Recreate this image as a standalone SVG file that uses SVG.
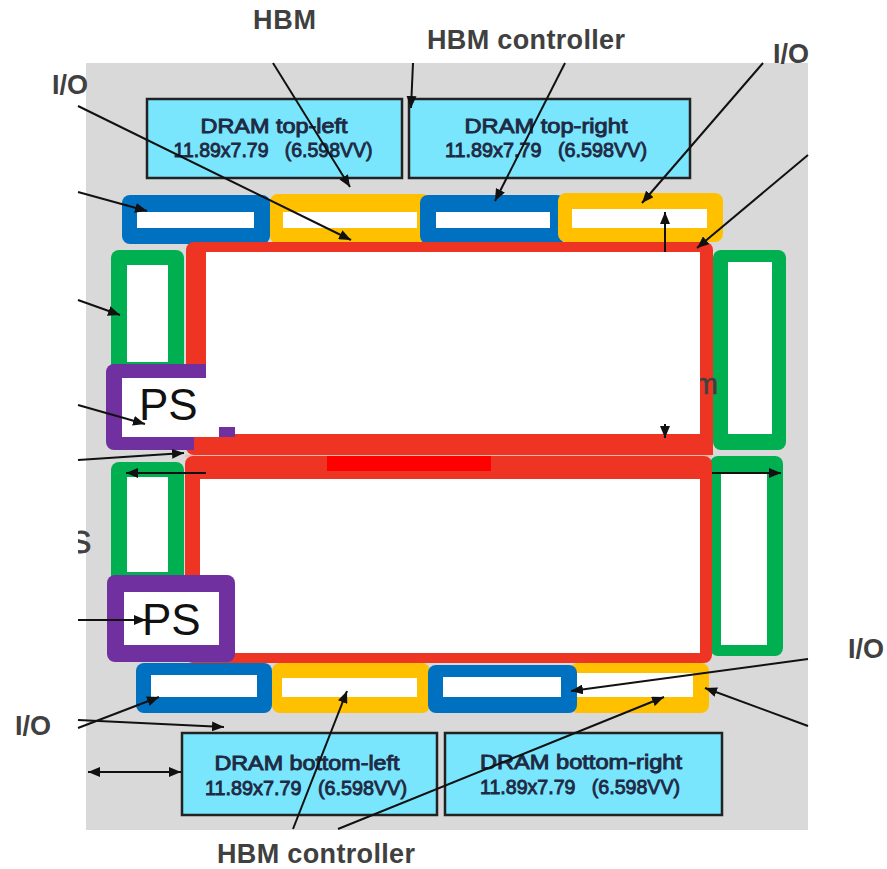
<svg xmlns="http://www.w3.org/2000/svg" width="887" height="869" viewBox="0 0 887 869">
<defs>
<marker id="ah" viewBox="0 0 12 10" refX="12" refY="5" markerWidth="12" markerHeight="10" markerUnits="userSpaceOnUse" orient="auto-start-reverse">
<path d="M0,0 L12,5 L0,10 Z" fill="#111"/>
</marker>
<style>
.lbl{font-family:"Liberation Sans",Arial,sans-serif;font-weight:bold;font-size:27px;fill:#404040}
.dram{fill:#7ae6fd;stroke:#222;stroke-width:2.5}
.dt{font-family:"Liberation Sans",Arial,sans-serif;font-size:20px;fill:#1f2a44;stroke:#1f2a44;stroke-width:0.9;text-anchor:middle}
.blue{fill:#0070c0}
.yel{fill:#ffc000}
.grn{fill:#00b050}
.red{fill:#ee3524}
.pur{fill:#7030a0}
.wh{fill:#ffffff}
.ps{font-family:"Liberation Sans",Arial,sans-serif;font-size:44px;fill:#111}
.c{stroke:#111;stroke-width:2;fill:none}
</style>
</defs>
<rect x="0" y="0" width="887" height="869" fill="#ffffff"/>
<rect id="bg" x="86" y="63" width="722" height="767" fill="#d9d9d9"/>

<g id="dram-top-left"><rect class="dram" x="147" y="99" width="255" height="79"/>
<text class="dt" x="274" y="133" textLength="147" lengthAdjust="spacingAndGlyphs">DRAM top-left</text>
<text class="dt" x="273" y="157" textLength="199" lengthAdjust="spacingAndGlyphs" xml:space="preserve">11.89x7.79   (6.598VV)</text></g>
<g id="dram-top-right"><rect class="dram" x="409" y="99" width="281" height="79"/>
<text class="dt" x="546" y="133" textLength="163" lengthAdjust="spacingAndGlyphs">DRAM top-right</text>
<text class="dt" x="546" y="157" textLength="202" lengthAdjust="spacingAndGlyphs" xml:space="preserve">11.89x7.79   (6.598VV)</text></g>
<g id="dram-bottom-left"><rect class="dram" x="182" y="733" width="255" height="82"/>
<text class="dt" x="307" y="770" textLength="185" lengthAdjust="spacingAndGlyphs">DRAM bottom-left</text>
<text class="dt" x="306" y="795" textLength="202" lengthAdjust="spacingAndGlyphs" xml:space="preserve">11.89x7.79   (6.598VV)</text></g>
<g id="dram-bottom-right"><rect class="dram" x="445" y="733" width="277" height="82"/>
<text class="dt" x="581" y="769" textLength="202" lengthAdjust="spacingAndGlyphs">DRAM bottom-right</text>
<text class="dt" x="580" y="794" textLength="200" lengthAdjust="spacingAndGlyphs" xml:space="preserve">11.89x7.79   (6.598VV)</text></g>

<g id="top-row">
<rect class="blue" x="122" y="195" width="148" height="49" rx="8"/><rect class="wh" x="137" y="212" width="117" height="16"/>
<rect class="yel" x="270" y="194" width="160" height="50" rx="8"/><rect class="wh" x="283" y="212" width="134" height="16"/>
<rect class="blue" x="420" y="195" width="145" height="49" rx="8"/><rect class="wh" x="436" y="212" width="114" height="16"/>
<rect class="yel" x="558" y="193" width="165" height="49" rx="8"/><rect class="wh" x="572" y="209" width="135" height="19"/>
</g>

<g id="green-left-top"><rect class="grn" x="111" y="250" width="73" height="125" rx="8"/><rect class="wh" x="127" y="265" width="41" height="97"/></g>
<g id="green-right-top"><rect class="grn" x="713" y="250" width="73" height="200" rx="8"/><rect class="wh" x="728" y="262" width="44" height="172"/></g>
<g id="green-left-bottom"><rect class="grn" x="111" y="462" width="73" height="125" rx="8"/><rect class="wh" x="127" y="477" width="41" height="95"/></g>
<g id="green-right-bottom"><rect class="grn" x="710" y="456" width="73" height="200" rx="8"/><rect class="wh" x="721" y="473" width="46" height="172"/></g>

<g id="bottom-row">
<rect class="blue" x="136" y="663" width="136" height="50" rx="8"/><rect class="wh" x="151" y="675" width="106" height="22"/>
<rect class="yel" x="272" y="663" width="158" height="50" rx="8"/><rect class="wh" x="282" y="678" width="135" height="19"/>
<rect class="yel" x="570" y="663" width="139" height="50" rx="8"/>
<rect class="blue" x="428" y="665" width="149" height="48" rx="8"/><rect class="wh" x="443" y="677" width="118" height="20"/>
<rect class="wh" x="577" y="673" width="116" height="24"/>
</g>

<g id="top-frame">
<rect class="red" x="186" y="242" width="527" height="213" rx="8"/>
<text x="694" y="394" font-family="Liberation Sans, Arial, sans-serif" font-size="29" fill="#404040" stroke="#404040" stroke-width="0.6">m</text>
</g>
<g id="ps-top">
<rect class="pur" x="106" y="364" width="129" height="86" rx="8"/>
<rect class="wh" x="122" y="378" width="97" height="59"/>
<text class="ps" x="139" y="420">PS</text>
</g>
<rect class="red" x="194" y="437" width="519" height="18"/>
<rect class="wh" x="206" y="252" width="494" height="175"/>
<rect class="wh" x="235" y="427" width="465" height="7"/>

<g id="bottom-frame">
<rect x="185" y="455" width="527" height="2" fill="#f4b8b0"/>
<rect class="red" x="185" y="456" width="527" height="207" rx="8"/>
<rect class="wh" x="200" y="479" width="500" height="174"/>
<rect x="327" y="456" width="164" height="15" fill="#ff0000"/>
</g>
<g id="ps-bottom">
<rect class="pur" x="107" y="575" width="128" height="87" rx="8"/>
<rect class="wh" x="124" y="592" width="95" height="53"/>
<text class="ps" x="142" y="635">PS</text>
</g>

<text x="70" y="553" font-family="Liberation Sans, Arial, sans-serif" font-size="32" fill="#404040" stroke="#404040" stroke-width="0.8">S</text>
<rect class="wh" x="40" y="520" width="38" height="40"/>

<g id="connectors">
<line class="c" x1="273" y1="63" x2="350" y2="187" marker-end="url(#ah)"/>
<line class="c" x1="413" y1="63" x2="411" y2="108" marker-end="url(#ah)"/>
<line class="c" x1="565" y1="63" x2="495" y2="201" marker-end="url(#ah)"/>
<line class="c" x1="763" y1="63" x2="642" y2="203" marker-end="url(#ah)"/>
<line class="c" x1="808" y1="155" x2="697" y2="248" marker-end="url(#ah)"/>
<line class="c" x1="665" y1="252" x2="665" y2="212" marker-end="url(#ah)"/>
<line class="c" x1="665" y1="424" x2="665" y2="438" marker-end="url(#ah)"/>
<line class="c" x1="78" y1="106" x2="351" y2="240" marker-end="url(#ah)"/>
<line class="c" x1="78" y1="192" x2="147" y2="211" marker-end="url(#ah)"/>
<line class="c" x1="78" y1="300" x2="120" y2="315" marker-end="url(#ah)"/>
<line class="c" x1="78" y1="405" x2="145" y2="424" marker-end="url(#ah)"/>
<line class="c" x1="78" y1="460" x2="184" y2="453" marker-end="url(#ah)"/>
<line class="c" x1="206" y1="473" x2="126" y2="473" marker-end="url(#ah)"/>
<line class="c" x1="712" y1="473" x2="781" y2="473" marker-end="url(#ah)"/>
<line class="c" x1="78" y1="620" x2="146" y2="620" marker-end="url(#ah)"/>
<line class="c" x1="78" y1="728" x2="159" y2="697" marker-end="url(#ah)"/>
<line class="c" x1="78" y1="720" x2="224" y2="727" marker-end="url(#ah)"/>
<line class="c" x1="88" y1="772" x2="181" y2="772" marker-start="url(#ah)" marker-end="url(#ah)"/>
<line class="c" x1="293" y1="829" x2="347" y2="691" marker-end="url(#ah)"/>
<line class="c" x1="338" y1="829" x2="664" y2="697" marker-end="url(#ah)"/>
<line class="c" x1="808" y1="659" x2="571" y2="691" marker-end="url(#ah)"/>
<line class="c" x1="808" y1="726" x2="705" y2="688" marker-end="url(#ah)"/>
</g>

<g id="labels">
<text class="lbl" x="253" y="29" textLength="63">HBM</text>
<text class="lbl" x="427" y="49" textLength="198">HBM controller</text>
<text class="lbl" x="773" y="63">I/O</text>
<text class="lbl" x="52" y="94">I/O</text>
<text class="lbl" x="848" y="658">I/O</text>
<text class="lbl" x="15" y="735">I/O</text>
<text class="lbl" x="217" y="863" textLength="198">HBM controller</text>
</g>
</svg>
